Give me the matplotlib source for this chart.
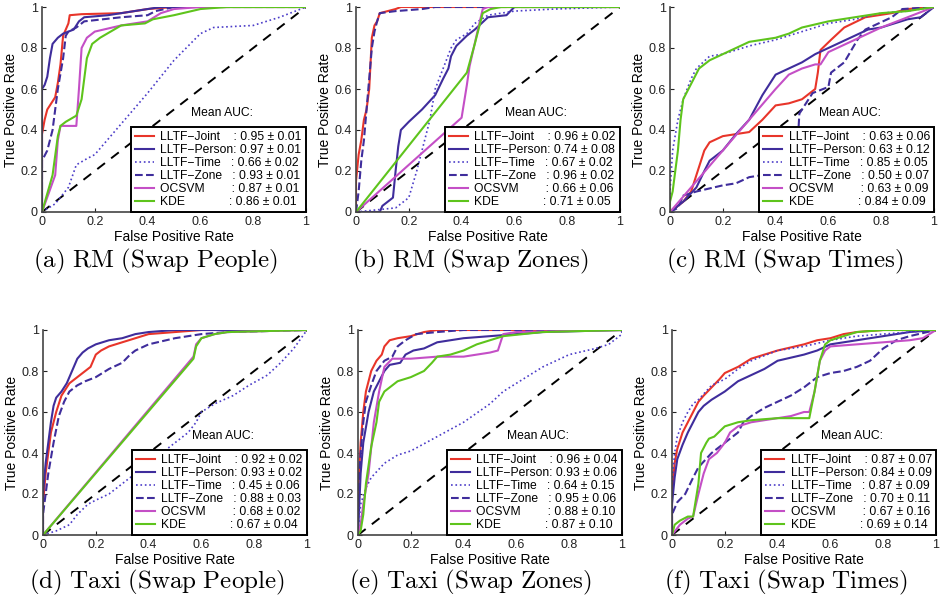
import numpy as np
import matplotlib.pyplot as plt

plt.rcParams['font.family'] = ['Liberation Sans', 'DejaVu Sans']
plt.rcParams['mathtext.fontset'] = 'cm'

methods = ['LLTF\u2212Joint', 'LLTF\u2212Person', 'LLTF\u2212Time', 'LLTF\u2212Zone', 'OCSVM', 'KDE']
pads = ['    ', '', '   ', '   ', '        ', '             ']
colors = ['#e8352a', '#3f2d9c', '#4b3cc8', '#3f2d9c', '#c44fc6', '#5ec41c']
styles = ['-', '-', ':', '--', '-', '-']

captions = ['(a)\\ RM\\ (Swap\\ People)', '(b)\\ RM\\ (Swap\\ Zones)', '(c)\\ RM\\ (Swap\\ Times)',
            '(d)\\ Taxi\\ (Swap\\ People)', '(e)\\ Taxi\\ (Swap\\ Zones)', '(f)\\ Taxi\\ (Swap\\ Times)']

# mean AUC and std per panel, in method order
auc_mean_a = [0.95, 0.97, 0.66, 0.93, 0.87, 0.86]
auc_std_a = [0.01, 0.01, 0.02, 0.01, 0.01, 0.01]
auc_mean_b = [0.96, 0.74, 0.67, 0.96, 0.66, 0.71]
auc_std_b = [0.02, 0.08, 0.02, 0.02, 0.06, 0.05]
auc_mean_c = [0.63, 0.63, 0.85, 0.50, 0.63, 0.84]
auc_std_c = [0.06, 0.12, 0.05, 0.07, 0.09, 0.09]
auc_mean_d = [0.92, 0.93, 0.45, 0.88, 0.68, 0.67]
auc_std_d = [0.02, 0.02, 0.06, 0.03, 0.02, 0.04]
auc_mean_e = [0.96, 0.93, 0.64, 0.95, 0.88, 0.87]
auc_std_e = [0.04, 0.06, 0.15, 0.06, 0.10, 0.10]
auc_mean_f = [0.87, 0.84, 0.87, 0.70, 0.67, 0.69]
auc_std_f = [0.07, 0.09, 0.09, 0.11, 0.16, 0.14]

# ROC curves (FPR, TPR)
a_joint = [(0, 0), (0, 0.38), (0.01, 0.45), (0.02, 0.5), (0.04, 0.54), (0.05, 0.56), (0.06, 0.63), (0.07, 0.72),
           (0.08, 0.86), (0.09, 0.89), (0.1, 0.92), (0.105, 0.96), (0.15, 0.965), (0.3, 0.97), (0.4, 0.99), (0.5, 1), (1, 1)]
a_person = [(0, 0), (0, 0.6), (0.01, 0.62), (0.02, 0.66), (0.03, 0.75), (0.04, 0.82), (0.06, 0.85), (0.08, 0.87),
            (0.1, 0.88), (0.12, 0.89), (0.14, 0.93), (0.16, 0.95), (0.25, 0.96), (0.35, 0.98), (0.45, 1), (1, 1)]
a_time = [(0, 0), (0.05, 0.04), (0.1, 0.12), (0.13, 0.23), (0.17, 0.26), (0.2, 0.28), (0.3, 0.43), (0.4, 0.58),
          (0.5, 0.74), (0.6, 0.87), (0.65, 0.9), (0.8, 0.91), (0.9, 0.95), (1, 1)]
a_zone = [(0, 0), (0, 0.25), (0.02, 0.3), (0.04, 0.4), (0.05, 0.5), (0.06, 0.6), (0.08, 0.75), (0.09, 0.86),
          (0.1, 0.88), (0.13, 0.9), (0.16, 0.93), (0.3, 0.95), (0.4, 0.96), (0.43, 0.98), (0.5, 1), (1, 1)]
a_ocsvm = [(0, 0), (0.05, 0.18), (0.06, 0.35), (0.07, 0.42), (0.13, 0.42), (0.14, 0.6), (0.15, 0.8), (0.17, 0.85),
           (0.2, 0.88), (0.3, 0.91), (0.4, 0.93), (0.45, 0.97), (0.5, 0.99), (0.6, 1), (1, 1)]
a_kde = [(0, 0), (0.04, 0.18), (0.06, 0.37), (0.07, 0.42), (0.09, 0.44), (0.13, 0.47), (0.15, 0.55), (0.17, 0.75),
         (0.19, 0.82), (0.22, 0.85), (0.3, 0.91), (0.39, 0.92), (0.42, 0.94), (0.5, 0.96), (0.6, 0.99), (0.7, 1), (1, 1)]

b_joint = [(0, 0), (0, 0.15), (0.01, 0.28), (0.02, 0.35), (0.03, 0.45), (0.04, 0.5), (0.05, 0.6), (0.06, 0.85),
           (0.07, 0.91), (0.08, 0.93), (0.09, 0.97), (0.12, 0.98), (0.15, 0.99), (0.17, 1), (1, 1)]
b_person = [(0, 0), (0.09, 0), (0.1, 0.03), (0.14, 0.07), (0.15, 0.2), (0.16, 0.32), (0.17, 0.4), (0.2, 0.44),
            (0.25, 0.5), (0.3, 0.57), (0.33, 0.65), (0.35, 0.7), (0.36, 0.76), (0.38, 0.81), (0.42, 0.86),
            (0.45, 0.89), (0.5, 0.95), (0.57, 0.96), (0.6, 1), (1, 1)]
b_time = [(0, 0), (0.15, 0.02), (0.2, 0.07), (0.23, 0.2), (0.25, 0.3), (0.28, 0.45), (0.3, 0.6), (0.33, 0.7),
          (0.36, 0.8), (0.38, 0.84), (0.42, 0.87), (0.45, 0.92), (0.5, 0.96), (0.6, 0.98), (0.75, 0.99), (1, 1)]
b_zone = [(0, 0), (0.01, 0.1), (0.02, 0.25), (0.03, 0.35), (0.04, 0.5), (0.05, 0.65), (0.06, 0.8), (0.07, 0.88),
          (0.08, 0.93), (0.09, 0.97), (0.15, 0.98), (0.25, 0.99), (0.3, 1), (1, 1)]
b_ocsvm = [(0, 0), (0.4, 0.46), (0.42, 0.62), (0.43, 0.71), (0.46, 0.88), (0.48, 0.99), (0.5, 1), (1, 1)]
b_kde = [(0, 0), (0.42, 0.68), (0.45, 0.82), (0.48, 0.97), (0.51, 0.99), (0.55, 1), (1, 1)]

c_joint = [(0, 0), (0.05, 0.05), (0.08, 0.1), (0.1, 0.18), (0.13, 0.3), (0.15, 0.34), (0.2, 0.37), (0.25, 0.38),
           (0.3, 0.39), (0.35, 0.45), (0.4, 0.52), (0.45, 0.53), (0.5, 0.55), (0.55, 0.6), (0.56, 0.68), (0.57, 0.79),
           (0.61, 0.84), (0.66, 0.9), (0.74, 0.95), (0.84, 0.97), (0.9, 0.99), (1, 1)]
c_person = [(0, 0), (0.05, 0.05), (0.1, 0.12), (0.13, 0.2), (0.15, 0.25), (0.2, 0.3), (0.25, 0.38), (0.3, 0.45),
            (0.35, 0.57), (0.4, 0.67), (0.45, 0.7), (0.5, 0.73), (0.55, 0.77), (0.6, 0.8), (0.65, 0.83), (0.7, 0.86),
            (0.75, 0.89), (0.8, 0.9), (0.9, 0.94), (0.95, 0.95), (1, 1)]
c_time = [(0, 0), (0, 0.1), (0.01, 0.3), (0.03, 0.45), (0.05, 0.55), (0.08, 0.65), (0.1, 0.7), (0.15, 0.76),
          (0.2, 0.77), (0.3, 0.81), (0.4, 0.84), (0.5, 0.88), (0.6, 0.92), (0.7, 0.94), (0.8, 0.97), (0.9, 0.98), (1, 1)]
c_zone = [(0, 0), (0.03, 0.02), (0.05, 0.08), (0.1, 0.1), (0.2, 0.13), (0.25, 0.14), (0.3, 0.17), (0.35, 0.18),
          (0.4, 0.2), (0.45, 0.22), (0.48, 0.25), (0.49, 0.48), (0.54, 0.58), (0.6, 0.61), (0.61, 0.68),
          (0.66, 0.73), (0.71, 0.84), (0.74, 0.89), (0.84, 0.95), (0.88, 0.99), (1, 1)]
c_ocsvm = [(0, 0), (0.1, 0.15), (0.2, 0.3), (0.3, 0.45), (0.4, 0.6), (0.45, 0.67), (0.5, 0.7), (0.55, 0.72),
           (0.57, 0.72), (0.6, 0.78), (0.7, 0.84), (0.8, 0.9), (0.9, 0.95), (1, 1)]
c_kde = [(0, 0), (0, 0.05), (0.01, 0.1), (0.02, 0.2), (0.03, 0.3), (0.04, 0.45), (0.05, 0.55), (0.07, 0.6),
         (0.09, 0.65), (0.11, 0.7), (0.15, 0.74), (0.2, 0.77), (0.25, 0.8), (0.3, 0.83), (0.4, 0.85), (0.45, 0.87),
         (0.5, 0.9), (0.6, 0.93), (0.7, 0.95), (0.8, 0.97), (0.9, 0.98), (1, 1)]

d_joint = [(0, 0), (0, 0.15), (0.01, 0.3), (0.02, 0.4), (0.03, 0.5), (0.05, 0.6), (0.07, 0.68), (0.1, 0.74),
           (0.13, 0.77), (0.16, 0.8), (0.18, 0.82), (0.2, 0.88), (0.22, 0.9), (0.25, 0.92), (0.3, 0.94),
           (0.35, 0.96), (0.4, 0.98), (0.5, 0.99), (0.6, 1), (1, 1)]
d_person = [(0, 0), (0, 0.2), (0.01, 0.35), (0.02, 0.45), (0.03, 0.55), (0.04, 0.63), (0.05, 0.67), (0.07, 0.7),
            (0.09, 0.74), (0.11, 0.8), (0.13, 0.86), (0.15, 0.89), (0.17, 0.91), (0.2, 0.93), (0.25, 0.95),
            (0.3, 0.96), (0.35, 0.98), (0.4, 0.99), (0.5, 1), (1, 1)]
d_time = [(0, 0), (0.05, 0.02), (0.1, 0.05), (0.13, 0.1), (0.17, 0.15), (0.2, 0.17), (0.25, 0.2), (0.3, 0.25),
          (0.35, 0.3), (0.4, 0.35), (0.45, 0.4), (0.5, 0.45), (0.55, 0.5), (0.58, 0.55), (0.6, 0.6), (0.65, 0.64),
          (0.72, 0.68), (0.78, 0.73), (0.85, 0.78), (0.9, 0.84), (0.95, 0.91), (1, 1)]
d_zone = [(0, 0), (0, 0.1), (0.02, 0.3), (0.04, 0.45), (0.06, 0.58), (0.08, 0.65), (0.1, 0.7), (0.13, 0.73),
          (0.16, 0.75), (0.2, 0.77), (0.25, 0.81), (0.3, 0.84), (0.33, 0.88), (0.35, 0.9), (0.4, 0.93),
          (0.5, 0.96), (0.6, 0.98), (0.7, 0.99), (1, 1)]
d_ocsvm = [(0, 0), (0.57, 0.87), (0.58, 0.93), (0.6, 0.96), (0.65, 0.98), (0.7, 0.99), (1, 1)]
d_kde = [(0, 0), (0.57, 0.86), (0.58, 0.92), (0.6, 0.96), (0.65, 0.98), (0.7, 0.99), (1, 1)]

e_joint = [(0, 0), (0, 0.2), (0.01, 0.45), (0.02, 0.6), (0.03, 0.7), (0.05, 0.8), (0.07, 0.85), (0.09, 0.88),
           (0.1, 0.92), (0.12, 0.95), (0.15, 0.96), (0.2, 0.97), (0.25, 0.99), (0.3, 1), (1, 1)]
e_person = [(0, 0), (0.01, 0.3), (0.02, 0.45), (0.04, 0.6), (0.06, 0.7), (0.08, 0.75), (0.1, 0.8), (0.12, 0.83),
            (0.16, 0.84), (0.18, 0.88), (0.21, 0.9), (0.25, 0.91), (0.3, 0.94), (0.35, 0.95), (0.4, 0.96),
            (0.5, 0.97), (0.6, 0.98), (0.7, 0.99), (1, 1)]
e_time = [(0, 0), (0.01, 0.15), (0.03, 0.23), (0.05, 0.28), (0.1, 0.35), (0.15, 0.39), (0.2, 0.41), (0.3, 0.48),
          (0.4, 0.55), (0.5, 0.64), (0.55, 0.7), (0.6, 0.74), (0.7, 0.82), (0.8, 0.88), (0.9, 0.91), (0.95, 0.93),
          (1, 0.98), (1, 1)]
e_zone = [(0, 0), (0, 0.2), (0.01, 0.4), (0.02, 0.55), (0.03, 0.65), (0.05, 0.73), (0.07, 0.8), (0.1, 0.85),
          (0.13, 0.87), (0.15, 0.92), (0.18, 0.95), (0.22, 0.98), (0.3, 0.99), (0.4, 1), (1, 1)]
e_ocsvm = [(0, 0), (0.01, 0.05), (0.02, 0.15), (0.04, 0.3), (0.06, 0.55), (0.08, 0.7), (0.1, 0.82), (0.13, 0.86),
           (0.2, 0.86), (0.3, 0.87), (0.4, 0.87), (0.5, 0.89), (0.53, 0.9), (0.55, 0.98), (0.6, 0.99), (1, 1)]
e_kde = [(0, 0), (0.01, 0.02), (0.02, 0.1), (0.03, 0.25), (0.05, 0.43), (0.07, 0.55), (0.08, 0.65), (0.1, 0.7),
         (0.12, 0.72), (0.15, 0.75), (0.2, 0.77), (0.25, 0.8), (0.28, 0.84), (0.3, 0.87), (0.35, 0.88),
         (0.4, 0.9), (0.45, 0.93), (0.5, 0.95), (0.55, 0.97), (0.7, 0.99), (1, 1)]

f_joint = [(0, 0), (0, 0.2), (0.01, 0.35), (0.02, 0.42), (0.04, 0.5), (0.06, 0.55), (0.08, 0.6), (0.1, 0.65),
           (0.12, 0.68), (0.15, 0.72), (0.18, 0.76), (0.2, 0.79), (0.25, 0.82), (0.3, 0.86), (0.4, 0.9),
           (0.5, 0.93), (0.55, 0.95), (0.6, 0.96), (0.65, 0.98), (0.7, 0.99), (0.8, 1), (1, 1)]
f_person = [(0, 0), (0, 0.15), (0.01, 0.28), (0.02, 0.37), (0.04, 0.44), (0.06, 0.5), (0.08, 0.55), (0.1, 0.6),
            (0.12, 0.63), (0.15, 0.66), (0.2, 0.7), (0.25, 0.75), (0.3, 0.78), (0.35, 0.81), (0.4, 0.85),
            (0.5, 0.88), (0.55, 0.9), (0.6, 0.93), (0.7, 0.95), (0.8, 0.97), (0.9, 0.99), (1, 1)]
f_time = [(0, 0), (0, 0.25), (0.01, 0.4), (0.02, 0.48), (0.04, 0.55), (0.06, 0.6), (0.08, 0.64), (0.1, 0.66),
          (0.15, 0.73), (0.2, 0.76), (0.25, 0.81), (0.3, 0.85), (0.4, 0.9), (0.5, 0.92), (0.6, 0.95), (0.7, 0.97),
          (0.8, 0.98), (0.9, 0.99), (1, 1)]
f_zone = [(0, 0), (0, 0.1), (0.02, 0.16), (0.05, 0.2), (0.08, 0.28), (0.1, 0.33), (0.15, 0.4), (0.2, 0.45),
          (0.25, 0.5), (0.27, 0.55), (0.3, 0.58), (0.35, 0.62), (0.4, 0.65), (0.45, 0.68), (0.5, 0.72),
          (0.55, 0.77), (0.6, 0.79), (0.65, 0.8), (0.7, 0.82), (0.75, 0.85), (0.8, 0.91), (0.85, 0.95),
          (0.9, 0.97), (1, 1)]
f_ocsvm = [(0, 0), (0.03, 0.05), (0.06, 0.08), (0.08, 0.09), (0.1, 0.2), (0.12, 0.3), (0.14, 0.37), (0.17, 0.4),
           (0.2, 0.45), (0.22, 0.5), (0.25, 0.53), (0.3, 0.55), (0.4, 0.57), (0.45, 0.58), (0.5, 0.6), (0.52, 0.6),
           (0.54, 0.7), (0.56, 0.85), (0.58, 0.9), (0.6, 0.92), (0.7, 0.93), (0.8, 0.94), (0.9, 0.95), (0.95, 0.96), (1, 1)]
f_kde = [(0, 0), (0.01, 0.05), (0.03, 0.07), (0.06, 0.09), (0.08, 0.09), (0.1, 0.25), (0.11, 0.4), (0.13, 0.45),
         (0.14, 0.47), (0.16, 0.48), (0.2, 0.53), (0.25, 0.55), (0.3, 0.56), (0.4, 0.57), (0.52, 0.57),
         (0.54, 0.7), (0.56, 0.85), (0.58, 0.93), (0.6, 0.95), (0.7, 0.99), (0.8, 1), (1, 1)]

panels = [
    ([a_joint, a_person, a_time, a_zone, a_ocsvm, a_kde], auc_mean_a, auc_std_a),
    ([b_joint, b_person, b_time, b_zone, b_ocsvm, b_kde], auc_mean_b, auc_std_b),
    ([c_joint, c_person, c_time, c_zone, c_ocsvm, c_kde], auc_mean_c, auc_std_c),
    ([d_joint, d_person, d_time, d_zone, d_ocsvm, d_kde], auc_mean_d, auc_std_d),
    ([e_joint, e_person, e_time, e_zone, e_ocsvm, e_kde], auc_mean_e, auc_std_e),
    ([f_joint, f_person, f_time, f_zone, f_ocsvm, f_kde], auc_mean_f, auc_std_f),
]

# axes boxes in pixels (left, top of plot area)
lefts = [42, 356, 670, 43, 358, 672]
tops = [7, 7, 7, 330, 330, 330]
cap_x = [155, 470, 785, 157, 470, 786]
cap_y = [267, 267, 267, 588, 588, 588]

W, H = 942, 599
fig = plt.figure(figsize=(W / 100, H / 100), dpi=100)

for k, (curves, means, stds) in enumerate(panels):
    ax = fig.add_axes([lefts[k] / W, 1 - (tops[k] + 205) / H, 264 / W, 205 / H])
    ax.plot([0, 1], [0, 1], color='black', ls='--', lw=1.4, dashes=(5, 4))
    for i, pts in enumerate(curves):
        pts = np.array(pts)
        lbl = f'{methods[i]}{pads[i]}: {means[i]:.2f} \u00b1 {stds[i]:.2f}'
        lw = 1.2 if styles[i] == ':' else 1.5
        ax.plot(pts[:, 0], pts[:, 1], color=colors[i], ls=styles[i], lw=lw, label=lbl)
    ax.set_xlim(0, 1)
    ax.set_ylim(0, 1)
    ticks = [0, 0.2, 0.4, 0.6, 0.8, 1]
    tl = ['0', '0.2', '0.4', '0.6', '0.8', '1']
    ax.set_xticks(ticks)
    ax.set_xticklabels(tl)
    ax.set_yticks(ticks)
    ax.set_yticklabels(tl)
    ax.tick_params(direction='in', length=3, labelsize=9, colors='#222222', pad=3)
    for s in ['top', 'right']:
        ax.spines[s].set_visible(False)
    for s in ['left', 'bottom']:
        ax.spines[s].set_color('#444444')
        ax.spines[s].set_linewidth(1.2)
    ax.set_xlabel('False Positive Rate', fontsize=10, labelpad=1)
    ax.set_ylabel('True Positive Rate', fontsize=10, labelpad=2)
    leg = ax.legend(loc='lower right', bbox_to_anchor=(1, 0), borderaxespad=0, fontsize=8.7,
                    handlelength=1.6, labelspacing=0.08, handletextpad=0.5, borderpad=0.35,
                    fancybox=False, framealpha=1, edgecolor='black')
    leg.get_frame().set_linewidth(1.4)
    ax.text(0.68, 0.47, 'Mean AUC:', transform=ax.transAxes, ha='center', va='baseline', fontsize=8.7)
    fig.text(cap_x[k] / W, 1 - cap_y[k] / H, '$\\mathrm{' + captions[k] + '}$', ha='center', va='baseline',
             fontsize=18)

fig.savefig('out.png', dpi=100)
